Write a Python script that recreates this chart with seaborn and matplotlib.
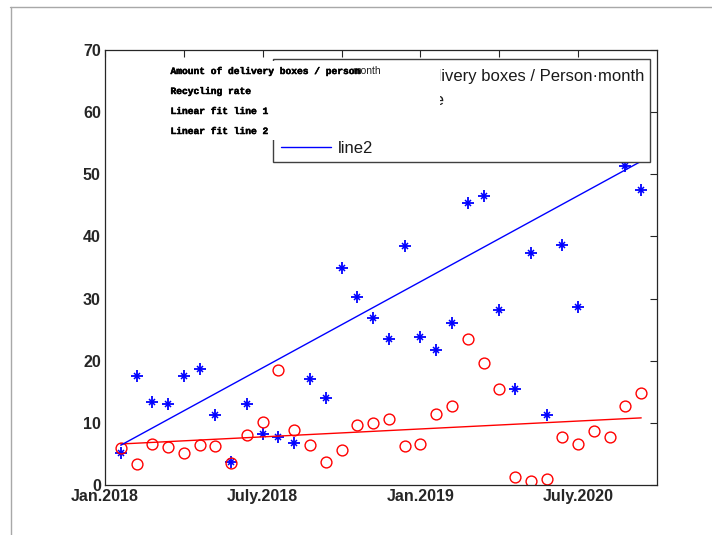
import numpy as np
import matplotlib
matplotlib.use("Agg")
import matplotlib.pyplot as plt
import matplotlib.patheffects as pe
from matplotlib.patches import Rectangle
from matplotlib.lines import Line2D
import seaborn as sns

# Monthly observations
months = np.arange(1, 35)
boxes_per_person = [5.1, 17.5, 13.4, 13.1, 17.5, 18.7, 11.2, 3.7, 13.0, 8.2,
                    7.8, 6.7, 17.1, 14.0, 35.0, 30.3, 26.9, 23.5, 38.5, 23.8,
                    21.8, 26.0, 45.3, 46.5, 28.2, 15.5, 37.4, 11.2, 38.7, 28.7,
                    56.5, 58.0, 51.4, 47.5]
recycling_rate = [5.9, 3.4, 6.6, 6.1, 5.2, 6.4, 6.3, 3.6, 8.0, 10.1,
                  18.5, 8.9, 6.4, 3.7, 5.6, 9.6, 9.9, 10.7, 6.3, 6.6,
                  11.5, 12.7, 23.5, 19.7, 15.4, 1.3, 0.7, 0.9, 7.7, 6.6,
                  8.7, 7.7, 12.7, 14.8]

# Linear fit lines (end points)
fit_x = [1, 34]
fit_boxes = [6.4, 52.1]
fit_rate = [6.6, 10.8]

xtick_pos = [0, 5, 10, 15, 20, 25, 30]
xtick_labels = ["Jan.2018", "", "July.2018", "", "Jan.2019", "", "July.2020"]
ytick_pos = [0, 10, 20, 30, 40, 50, 60, 70]

legend_labels = ["Amount of delivery boxes / Person\u00b7month", "Recycling rate",
                 "line1", "line2"]
note_lines = ["Amount of delivery boxes / person", "Recycling rate",
              "Linear fit line 1", "Linear fit line 2"]

sns.set_style("white")
plt.rcParams["font.family"] = ["Liberation Sans", "DejaVu Sans"]

W, H = 712, 535
fig = plt.figure(figsize=(W / 100, H / 100), dpi=100)
ax = fig.add_axes([105 / W, (H - 485) / H, 552 / W, 435 / H])

# asterisk markers: a plus with short diagonals
sns.lineplot(x=months, y=boxes_per_person, ax=ax, color="blue", linestyle="",
             marker="+", markersize=8, markeredgewidth=1.3,
             markeredgecolor="blue", label=legend_labels[0])
sns.lineplot(x=months, y=boxes_per_person, ax=ax, color="blue", linestyle="",
             marker="x", markersize=4.5, markeredgewidth=1.1,
             markeredgecolor="blue")
sns.lineplot(x=months, y=recycling_rate, ax=ax, color="red", linestyle="",
             marker="o", markersize=7.8, markerfacecolor="none",
             markeredgecolor="red", markeredgewidth=1.0, label=legend_labels[1])
sns.lineplot(x=fit_x, y=fit_rate, ax=ax, color="red", linewidth=1.0,
             label=legend_labels[2])
sns.lineplot(x=fit_x, y=fit_boxes, ax=ax, color="blue", linewidth=1.0,
             label=legend_labels[3])

ax.set_xlim(0, 35)
ax.set_ylim(0, 70)
ax.set_xticks(xtick_pos)
ax.set_xticklabels(xtick_labels, fontweight="bold", fontsize=11.5, color="#262626")
ax.set_yticks(ytick_pos)
ax.set_yticklabels([str(v) for v in ytick_pos], fontweight="bold", fontsize=11.5,
                   color="#262626")
ax.tick_params(direction="in", length=5, width=0.8, top=True, right=True,
               colors="#262626", pad=3)
for sp in ax.spines.values():
    sp.set_visible(True)
    sp.set_color("#262626")
    sp.set_linewidth(0.9)

# Legend box (drawn as its own patch) and its entries
ax.add_patch(Rectangle((273 / W, 1 - 162 / H), (650 - 273) / W, (162 - 59) / H,
                       transform=fig.transFigure, facecolor="white",
                       edgecolor="#404040", linewidth=1.0, zorder=4.9,
                       clip_on=False))
handles, labels = ax.get_legend_handles_labels()
leg = ax.legend(handles, labels, loc="upper left",
                bbox_to_anchor=(273 / W, 1 - 61 / H), bbox_transform=fig.transFigure,
                fontsize=12, frameon=False, borderpad=0.5, handlelength=2.95,
                handletextpad=0.45, labelspacing=0.54, borderaxespad=0)
leg.set_zorder(5)
for t in leg.get_texts():
    t.set_color("#1a1a1a")

# Annotation panel with the series descriptions
fig.add_artist(Rectangle((165 / W, 1 - 140 / H), (440 - 165) / W, (140 - 60.5) / H,
                         transform=fig.transFigure, facecolor="white",
                         edgecolor="none", zorder=10))
fig.text(352 / W, 1 - 71.5 / H, "month", fontsize=7.5, color="#222222",
         va="center", ha="left", zorder=10.5)
for i, line in enumerate(note_lines):
    fig.text(170.5 / W, 1 - (71 + 20 * i) / H, line, fontsize=6.9,
             family=["Liberation Mono", "DejaVu Sans Mono"], fontweight="bold",
             color="black", va="center", ha="left", zorder=11,
             path_effects=[pe.withStroke(linewidth=0.35, foreground="black")])

# Outer frame edges
fig.add_artist(Line2D([10 / W, 1], [1 - 7 / H, 1 - 7 / H], transform=fig.transFigure,
                      color="#a8a8a8", linewidth=1.0))
fig.add_artist(Line2D([11 / W, 11 / W], [0, 1 - 7 / H], transform=fig.transFigure,
                      color="#a8a8a8", linewidth=1.0))

fig.savefig("out.png", dpi=100)
